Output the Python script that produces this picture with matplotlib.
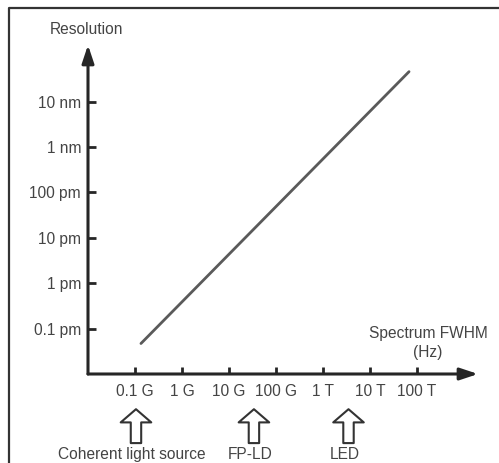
import matplotlib.pyplot as plt
from matplotlib.lines import Line2D

# Data
fwhm_hz = [1.34e8, 6.8e13]
resolution_m = [4.7e-14, 4.6e-8]

x_ticks = [1e8, 1e9, 1e10, 1e11, 1e12, 1e13, 1e14]
x_labels = ['0.1 G', '1 G', '10 G', '100 G', '1 T', '10 T', '100 T']
y_ticks = [1e-13, 1e-12, 1e-11, 1e-10, 1e-9, 1e-8]
y_labels = ['0.1 pm', '1 pm', '10 pm', '100 pm', '1 nm', '10 nm']

source_names = ['Coherent light source', 'FP-LD', 'LED']
source_fwhm = [1.05e8, 3.4e10, 3.5e12]

plt.rcParams['font.family'] = ['Liberation Sans', 'DejaVu Sans']
text_color = '#444444'
axis_color = '#262626'
fs = 11.2

fig = plt.figure(figsize=(4.99, 4.63), dpi=100)
ax = fig.add_axes([88 / 499, 89 / 463, 390 / 499, 329 / 463])
ax.set_xscale('log')
ax.set_yscale('log')
ax.set_xlim(1e7, 10 ** 15.3)
ax.set_ylim(1e-14, 10 ** -6.75)
for s in ax.spines.values():
    s.set_visible(False)

# main relation line
ax.plot(fwhm_hz, resolution_m, color='#5a5a5a', linewidth=2.0, solid_capstyle='round')

# axis arrows
arrow_kw = dict(arrowstyle='-|>,head_length=0.9,head_width=0.3', color=axis_color,
                linewidth=2.2, shrinkA=0, shrinkB=0, mutation_scale=12)
ax.annotate('', xy=(1, 0), xytext=(0, 0), xycoords='axes fraction',
            arrowprops=arrow_kw, annotation_clip=False)
ax.annotate('', xy=(0, 1), xytext=(0, 0), xycoords='axes fraction',
            arrowprops=arrow_kw, annotation_clip=False)

ax.set_xticks(x_ticks)
ax.set_xticklabels(x_labels)
ax.set_yticks(y_ticks)
ax.set_yticklabels(y_labels)
ax.minorticks_off()
ax.tick_params(axis='x', direction='in', length=5, width=2, color=axis_color,
               pad=7, labelsize=fs, labelcolor=text_color)
ax.tick_params(axis='y', direction='in', length=6, width=2, color=axis_color,
               pad=5, labelsize=fs, labelcolor=text_color)

ax.text(-0.005, 1.046, 'Resolution', transform=ax.transAxes, ha='center', va='center',
        fontsize=fs, color=text_color)
ax.text(0.872, 0.095, 'Spectrum FWHM\n(Hz)', transform=ax.transAxes, ha='center',
        va='center', fontsize=fs, color=text_color, linespacing=1.3)

# hollow arrows pointing at the typical source widths
for name, xv in zip(source_names, source_fwhm):
    ax.annotate('', xy=(xv, -0.107), xytext=(xv, -0.21),
                xycoords=('data', 'axes fraction'), textcoords=('data', 'axes fraction'),
                arrowprops=dict(arrowstyle='simple,head_length=9.5,head_width=22,tail_width=7.5',
                                mutation_scale=1, fc='white', ec='#333333', lw=1.5,
                                shrinkA=0, shrinkB=0),
                annotation_clip=False)
    ax.annotate(name, xy=(xv, -0.246), xycoords=('data', 'axes fraction'),
                xytext=(-3, 0), textcoords='offset points', ha='center', va='center',
                fontsize=fs, color=text_color, annotation_clip=False)

# outer frame (only left and top edges are visible)
fig.add_artist(Line2D([9 / 499, 9 / 499, 1.0], [0.0, 1 - 8 / 463, 1 - 8 / 463],
                      transform=fig.transFigure, color='#333333', linewidth=1.6))

fig.savefig('out.png', dpi=100)
